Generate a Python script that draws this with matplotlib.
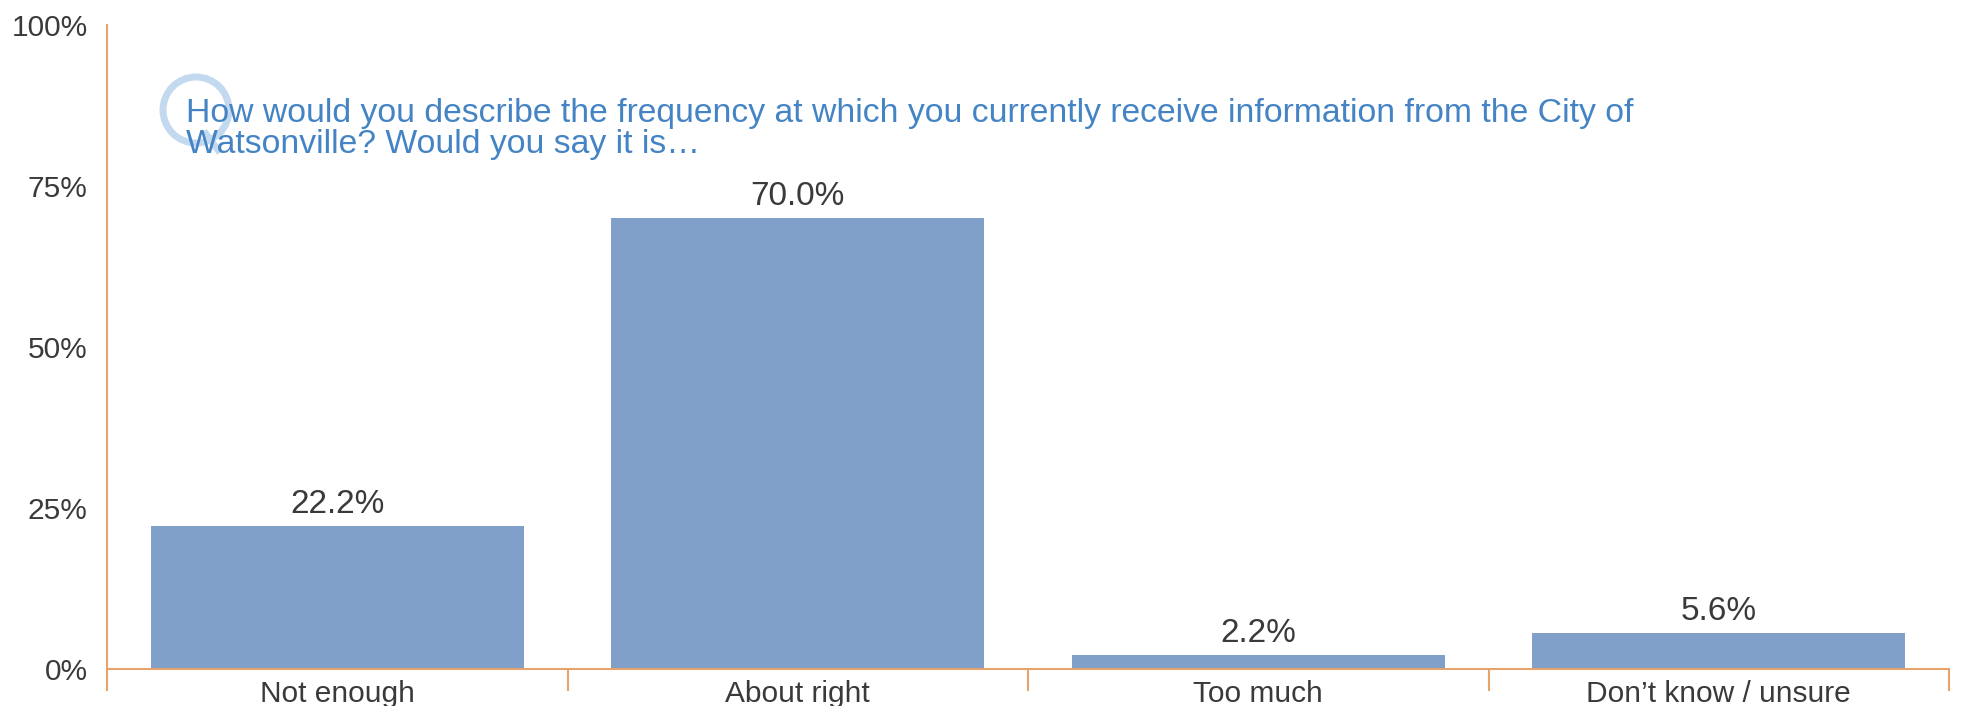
import matplotlib

matplotlib.use("Agg")

import matplotlib.pyplot as plt
from matplotlib.lines import Line2D
from matplotlib.patches import Ellipse

categories = ["Not enough", "About right", "Too much", "Don\u2019t know / unsure"]
shares = [22.2, 70.0, 2.2, 5.6]
y_ticks = [0, 25, 50, 75, 100]
question = ("How would you describe the frequency at which you currently receive information from the City of\n"
            "Watsonville? Would you say it is\u2026")

BAR_COLOR = "#809FC9"
AXIS_COLOR = "#E6A46C"
TEXT_COLOR = "#3A3A3A"
TITLE_COLOR = "#4584C4"
BADGE_COLOR = "#C3D9F0"

plt.rcParams["font.family"] = ["Liberation Sans", "DejaVu Sans"]

W, H = 1961, 706
fig = plt.figure(figsize=(W / 100, H / 100), dpi=100)
ax = fig.add_axes([107 / W, 1 - 669 / H, (1949 - 107) / W, (669 - 25) / H])

x = list(range(len(categories)))
bars = ax.bar(x, shares, width=0.81, color=BAR_COLOR, zorder=2)
for rect, value in zip(bars, shares):
    ax.annotate(f"{value:.1f}%", (rect.get_x() + rect.get_width() / 2, rect.get_height()),
                xytext=(0, 9.5), textcoords="offset points", ha="center", va="baseline",
                fontsize=24, color=TEXT_COLOR)

ax.set_xlim(-0.5, len(categories) - 0.5)
ax.set_ylim(0, 100)
ax.set_yticks(y_ticks)
ax.set_yticklabels([f"{t}%" for t in y_ticks])
ax.set_xticks(x)
ax.set_xticklabels(categories)
ax.set_xticks([i - 0.5 for i in range(len(categories) + 1)], minor=True)
ax.tick_params(axis="x", which="major", length=0, pad=8, labelsize=21.5, labelcolor=TEXT_COLOR)
ax.tick_params(axis="x", which="minor", length=16, width=1.5, color=AXIS_COLOR, direction="out")
ax.tick_params(axis="y", length=0, pad=14, labelsize=21.5, labelcolor=TEXT_COLOR)

for side in ("top", "right"):
    ax.spines[side].set_visible(False)
for side in ("left", "bottom"):
    ax.spines[side].set_color(AXIS_COLOR)
    ax.spines[side].set_linewidth(1.5)
ax.spines["bottom"].set_zorder(3)

# faint "Q" badge (ring + tail) behind the question text
cx, cy, d = 196, 110, 66
fig.add_artist(Ellipse((cx / W, 1 - cy / H), d / W, d / H, fill=False, lw=5, ec=BADGE_COLOR,
                       transform=fig.transFigure, zorder=1))
fig.add_artist(Line2D([(cx + 10) / W, (cx + 22) / W], [1 - (cy + 24) / H, 1 - (cy + 40) / H],
                      lw=5, color=BADGE_COLOR, transform=fig.transFigure, zorder=1))
fig.text(186 / W, 1 - 129 / H, question, fontsize=24.3, color=TITLE_COLOR, ha="left", va="center",
         linespacing=1.0, zorder=2)

fig.savefig("out.png", dpi=100)
plt.close(fig)
